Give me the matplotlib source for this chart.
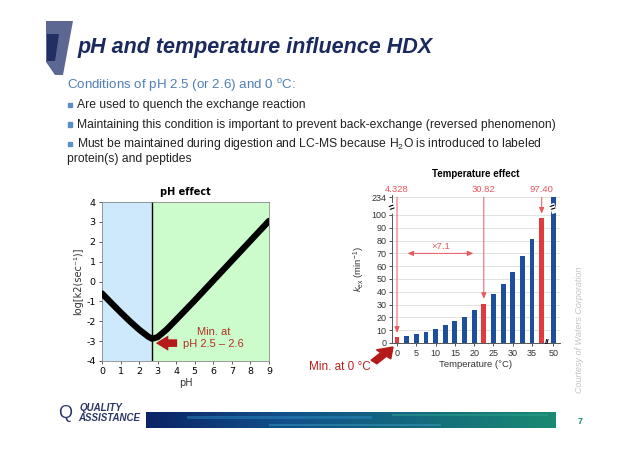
import numpy as np
import matplotlib
matplotlib.use("Agg")
import matplotlib.pyplot as plt
from matplotlib.patches import Polygon, FancyArrow
from matplotlib.colors import LinearSegmentedColormap

plt.rcParams["font.family"] = ["Liberation Sans", "DejaVu Sans"]
plt.rcParams["mathtext.fontset"] = "custom"
plt.rcParams["mathtext.rm"] = "Liberation Sans"
plt.rcParams["mathtext.it"] = "Liberation Sans:italic"
plt.rcParams["axes.unicode_minus"] = False

# ---- data: pH effect curve ----
ph = [0, 0.5, 1.0, 1.5, 2.0, 2.5, 2.7, 3.0, 3.5, 4.0, 5.0, 6.0, 7.0, 8.0, 9.0]
log_k2 = [-0.6, -1.08, -1.55, -2.0, -2.42, -2.78, -2.88, -2.8, -2.4, -1.92, -0.95, 0.05, 1.05, 2.05, 3.05]
ph_min = 2.7

# ---- data: temperature effect bars ----
temps = [0, 2.5, 5, 7.5, 10, 12.5, 15, 17.5, 20, 22.5, 25, 27.5, 30, 32.5, 35, 37.5, 50]
kex = [4.328, 5.7, 7.3, 8.9, 11.2, 13.8, 16.9, 20.6, 25.5, 30.82, 38.0, 46.0, 55.5, 67.7, 81.2, 97.40, 234]
highlight = [0, 22.5, 37.5]
temp_ticks = [0, 5, 10, 15, 20, 25, 30, 35, 50]
kex_ticks = [0, 10, 20, 30, 40, 50, 60, 70, 80, 90, 100, 234]

W, H = 638, 451
fig = plt.figure(figsize=(W / 100, H / 100), dpi=100)


def box(x0, y0, x1, y1):
    # pixel box (top-left origin) -> figure fraction rect
    return [x0 / W, 1 - y1 / H, (x1 - x0) / W, (y1 - y0) / H]


def fx(x):
    return x / W


def fy(y):
    return 1 - y / H


def poly(pts, color):
    fig.patches.append(Polygon([(fx(a), fy(b)) for a, b in pts], closed=True,
                               transform=fig.transFigure, color=color, lw=0))


navy = "#1b2a5c"
# header decoration
poly([(46, 21), (73, 21), (63, 75), (55, 75), (46, 62)], "#5d6892")
poly([(47, 34), (59, 34), (55, 61), (47, 61)], "#222f63")

fig.text(fx(77), fy(47), "pH and temperature influence HDX", fontsize=15.5, fontweight="bold",
         fontstyle="italic", color=navy, va="center", ha="left")
fig.text(fx(67), fy(86), "Conditions of pH 2.5 (or 2.6) and 0 $^{\\mathrm{o}}$C:", fontsize=9.6,
         color="#4f7fb6", va="center")
bullets = ["Are used to quench the exchange reaction",
           "Maintaining this condition is important to prevent back-exchange (reversed phenomenon)",
           "Must be maintained during digestion and LC-MS because H$_2$O is introduced to labeled"]
for i, b in enumerate(bullets):
    yy = 105 + i * 19.5
    fig.patches.append(plt.Rectangle((fx(68), fy(yy + 2)), 4 / W, 4 / H, transform=fig.transFigure,
                                     color="#5b8fc9"))
    fig.text(fx(77), fy(yy), b, fontsize=8.7, color="#222222", va="center")
fig.text(fx(67), fy(159), "protein(s) and peptides", fontsize=8.7, color="#222222", va="center")

# ---- pH effect chart ----
ax1 = fig.add_axes(box(102, 202, 269, 361))
ax1.axvspan(0, ph_min, color="#cde9fb", zorder=0)
ax1.axvspan(ph_min, 9, color="#ccfccc", zorder=0)
ax1.axvline(ph_min, color="black", lw=1.0, zorder=2)
ax1.plot(ph, log_k2, color="black", lw=4.5, solid_capstyle="round", zorder=3)
ax1.set_xlim(0, 9)
ax1.set_ylim(-4, 4)
ax1.set_xticks(range(0, 10))
ax1.set_yticks(range(-4, 5))
for lab in ax1.get_xticklabels() + ax1.get_yticklabels():
    lab.set_fontfamily("DejaVu Sans")
ax1.tick_params(labelsize=6.8, length=2.5, width=0.6, color="#444444", pad=2)
for s in ax1.spines.values():
    s.set_color("#888888")
    s.set_linewidth(0.6)
ax1.set_title("pH effect", fontsize=7, fontweight="bold", pad=5, fontfamily="DejaVu Sans")
ax1.set_xlabel("pH", fontsize=7, labelpad=1, fontfamily="DejaVu Sans", color="#333333")
ax1.set_ylabel("log[k2(sec\u207b\u00b9)]", fontsize=7, labelpad=2, fontfamily="DejaVu Sans", color="#333333")
ax1.annotate("", xy=(ph_min + 0.05, -3.1), xytext=(4.2, -3.1),
             arrowprops=dict(arrowstyle="simple,head_length=0.9,head_width=1.1,tail_width=0.55",
                             color="#b41a1a", lw=0))
ax1.text(6.0, -2.85, "Min. at\npH 2.5 \u2013 2.6", fontsize=8, color="#b23024", ha="center", va="center",
         linespacing=1.25)

# ---- temperature effect chart ----
def fwd(y):
    y = np.asarray(y, dtype=float)
    return np.where(y <= 105, y, 105 + (y - 105) * 9.0 / 129.0)


def inv(y):
    y = np.asarray(y, dtype=float)
    return np.where(y <= 105, y, 105 + (y - 105) * 129.0 / 9.0)


ax2 = fig.add_axes(box(392, 195, 560, 343))
ax2.set_yscale("function", functions=(fwd, inv))
xpos = [t / 2.5 if t < 40 else 16.2 for t in temps]
colors = ["#e23b3f" if t in highlight else "#1d4f9c" for t in temps]
ax2.bar(xpos, kex, width=0.5, color=colors, zorder=3)
ax2.set_ylim(0, 257)
ax2.set_xlim(-0.52, 16.9)
ax2.set_yticks(kex_ticks)
ax2.set_xticks([t / 2.5 if t < 40 else 16.2 for t in temp_ticks])
ax2.set_xticklabels([str(t) for t in temp_ticks])
ax2.yaxis.grid(True, color="#dddddd", lw=0.6, zorder=0)
ax2.tick_params(labelsize=6.5, length=2.5, width=0.6, pad=1.5, colors="#333333")
ax2.spines["top"].set_visible(False)
ax2.spines["right"].set_visible(False)
for s in ("left", "bottom"):
    ax2.spines[s].set_linewidth(0.7)
    ax2.spines[s].set_color("#555555")
ax2.set_title("Temperature effect", fontsize=7, fontweight="bold", pad=13)
ax2.set_xlabel("Temperature (\u00b0C)", fontsize=6.8, labelpad=2, color="#333333")
ax2.set_ylabel("$k_{\\mathrm{ex}}$ (min$^{-1}$)", fontsize=6.8, labelpad=3, color="#333333")
# axis break marks
ax2.text(-0.52, 106, "=", fontsize=7, rotation=20, ha="center", va="center", fontweight="bold",
         color="black", zorder=5, clip_on=False, bbox=dict(fc="white", ec="none", pad=0.0))
ax2.text(16.2, 106, "=", fontsize=7, rotation=20, ha="center", va="center", fontweight="bold",
         color="black", zorder=5, bbox=dict(fc="white", ec="none", pad=0.0))
ax2.text(15.55, 0, "//", fontsize=6, ha="center", va="center", fontweight="bold", zorder=5,
         clip_on=False)

red_ann = "#e8585c"
for t, v in zip(temps, kex):
    if t in highlight:
        x = t / 2.5
        ax2.annotate("", xy=(x, v + 1.5), xytext=(x, 262), annotation_clip=False,
                     arrowprops=dict(arrowstyle="-|>,head_length=0.35,head_width=0.15", color=red_ann, lw=0.7))
        ax2.text(x, 266, f"{v:.3f}" if v < 10 else f"{v:.2f}", fontsize=6.8, color=red_ann,
                 ha="center", va="bottom", clip_on=False)
ax2.annotate("", xy=(0.8, 70), xytext=(8.2, 70),
             arrowprops=dict(arrowstyle="<|-|>,head_length=0.35,head_width=0.15", color=red_ann, lw=0.7))
ax2.text(4.5, 71.5, "\u00d77.1", fontsize=6.8, color=red_ann, ha="center", va="bottom")

fig.text(fx(340), fy(367), "Min. at 0 \u00b0C", fontsize=8.5, color="#c0201e", ha="center", va="center")
fig.patches.append(FancyArrow(fx(374), fy(362), fx(393) - fx(374), fy(347) - fy(362), width=0.012,
                              head_width=0.03, head_length=0.022, length_includes_head=True,
                              transform=fig.transFigure, color="#b41a1a"))
fig.text(fx(580), fy(330), "Courtesy of Waters Corporation", fontsize=6.5, fontstyle="italic",
         color="#c4c4c4", rotation=90, ha="center", va="center")

# ---- footer ----
axf = fig.add_axes(box(146, 412, 556, 428))
axf.set_axis_off()
grad = np.linspace(0, 1, 256).reshape(1, -1)
cmap = LinearSegmentedColormap.from_list("foot", ["#0b2466", "#11508a", "#156a7e", "#1a8a72"])
axf.imshow(grad, aspect="auto", cmap=cmap, extent=(0, 1, 0, 1))
for x0, x1, y0, y1, c in [(0.1, 0.55, 0.55, 0.75, "#2d8fc4"), (0.3, 0.72, 0.1, 0.22, "#3aa0c0"),
                          (0.6, 0.98, 0.75, 0.9, "#2fa88e")]:
    axf.fill_between([x0, x1], y0, y1, color=c, alpha=0.45, lw=0)
axf.set_xlim(0, 1)
axf.set_ylim(0, 1)
fig.text(fx(80), fy(408), "QUALITY", fontsize=7, fontstyle="italic", fontweight="bold",
         color="#2a3566", va="center")
fig.text(fx(78), fy(418), "ASSISTANCE", fontsize=7, fontstyle="italic", fontweight="bold",
         color="#2a3566", va="center")
fig.text(fx(65), fy(413), "Q", fontsize=13, color="#2a3566", va="center", ha="center")
fig.text(fx(580), fy(421), "7", fontsize=6.5, fontweight="bold", color="#1a8a72", va="center", ha="center")

fig.savefig("out.png", dpi=100)
